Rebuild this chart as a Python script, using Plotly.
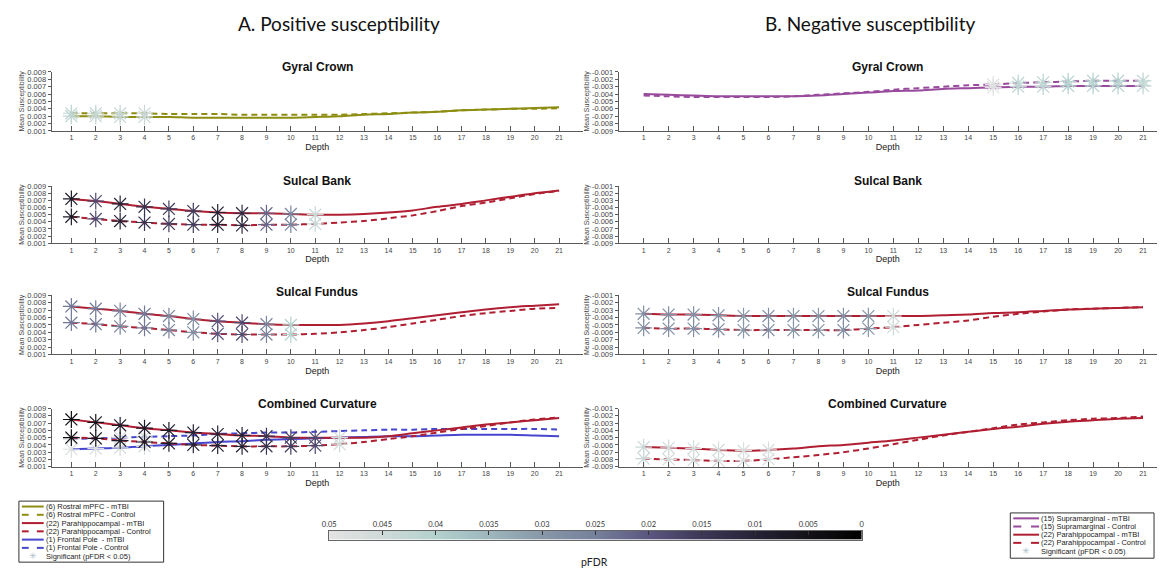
import plotly.graph_objects as go

W, H = 1161, 577
depth = list(range(1, 22))

# ---------------- A. Positive susceptibility ----------------
rmpfc_gc_mtbi = [0.0030, 0.0030, 0.0029, 0.0029, 0.0029, 0.0028, 0.0028, 0.0028, 0.0028, 0.0028, 0.0029,
                 0.0030, 0.0032, 0.0033, 0.0035, 0.0036, 0.0038, 0.0039, 0.0040, 0.0041, 0.0042]
rmpfc_gc_ctrl = [0.0034, 0.0034, 0.0034, 0.0034, 0.0033, 0.0033, 0.0033, 0.0032, 0.0032, 0.0032, 0.0032,
                 0.0032, 0.0033, 0.0034, 0.0035, 0.0036, 0.0038, 0.0039, 0.0040, 0.0040, 0.0041]
rmpfc_gc_sig = [1, 2, 3, 4]
rmpfc_gc_p = [0.042, 0.043, 0.043, 0.044]

para_sb_mtbi = [0.0072, 0.0069, 0.0065, 0.0061, 0.0058, 0.0055, 0.0053, 0.0052, 0.0052, 0.0051, 0.0050,
                0.0050, 0.0051, 0.0053, 0.0056, 0.0061, 0.0065, 0.0070, 0.0075, 0.0080, 0.0084]
para_sb_ctrl = [0.0047, 0.0044, 0.0041, 0.0039, 0.0037, 0.0036, 0.0036, 0.0035, 0.0036, 0.0036, 0.0037,
                0.0039, 0.0041, 0.0045, 0.0049, 0.0055, 0.0062, 0.0067, 0.0073, 0.0079, 0.0083]
para_sb_sig = [1, 2, 3, 4, 5, 6, 7, 8, 9, 10, 11]
para_sb_p = [0.008, 0.018, 0.010, 0.014, 0.016, 0.016, 0.010, 0.012, 0.022, 0.026, 0.044]

para_sf_mtbi = [0.0075, 0.0072, 0.0069, 0.0065, 0.0062, 0.0058, 0.0055, 0.0053, 0.0051, 0.0050, 0.0050,
                0.0050, 0.0052, 0.0055, 0.0059, 0.0063, 0.0067, 0.0071, 0.0074, 0.0076, 0.0078]
para_sf_ctrl = [0.0053, 0.0051, 0.0048, 0.0046, 0.0043, 0.0040, 0.0038, 0.0037, 0.0037, 0.0037, 0.0038,
                0.0040, 0.0043, 0.0047, 0.0052, 0.0057, 0.0062, 0.0066, 0.0069, 0.0072, 0.0073]
para_sf_sig = [1, 2, 3, 4, 5, 6, 7, 8, 9, 10]
para_sf_p = [0.024, 0.024, 0.026, 0.024, 0.026, 0.028, 0.020, 0.018, 0.026, 0.040]

para_cc_mtbi = [0.0075, 0.0071, 0.0067, 0.0063, 0.0060, 0.0057, 0.0055, 0.0053, 0.0052, 0.0050, 0.0050,
                0.0050, 0.0050, 0.0052, 0.0056, 0.0060, 0.0064, 0.0068, 0.0071, 0.0074, 0.0077]
para_cc_ctrl = [0.0050, 0.0049, 0.0046, 0.0044, 0.0042, 0.0040, 0.0039, 0.0038, 0.0038, 0.0038, 0.0039,
                0.0041, 0.0044, 0.0048, 0.0052, 0.0057, 0.0062, 0.0066, 0.0071, 0.0075, 0.0078]
para_cc_sig = [1, 2, 3, 4, 5, 6, 7, 8, 9, 10, 11, 12]
para_cc_p = [0.004, 0.006, 0.008, 0.008, 0.008, 0.010, 0.010, 0.010, 0.014, 0.016, 0.018, 0.045]

fp_cc_mtbi = [0.0034, 0.0035, 0.0036, 0.0038, 0.0040, 0.0042, 0.0044, 0.0045, 0.0047, 0.0048, 0.0049,
              0.0050, 0.0051, 0.0052, 0.0052, 0.0053, 0.0054, 0.0054, 0.0054, 0.0053, 0.0052]
fp_cc_ctrl = [0.0048, 0.0049, 0.0050, 0.0051, 0.0052, 0.0053, 0.0055, 0.0056, 0.0057, 0.0057, 0.0058,
              0.0059, 0.0060, 0.0061, 0.0061, 0.0062, 0.0062, 0.0062, 0.0062, 0.0062, 0.0061]
fp_cc_sig = [1, 2, 3, 4]
fp_cc_p = [0.048, 0.048, 0.047, 0.046]

# ---------------- B. Negative susceptibility ----------------
supra_gc_mtbi = [-0.0040, -0.0041, -0.0042, -0.0043, -0.0043, -0.0043, -0.0043, -0.0042, -0.0040, -0.0038, -0.0036,
                 -0.0035, -0.0033, -0.0032, -0.0031, -0.0030, -0.0030, -0.0029, -0.0029, -0.0029, -0.0029]
supra_gc_ctrl = [-0.0042, -0.0043, -0.0044, -0.0044, -0.0044, -0.0044, -0.0043, -0.0041, -0.0039, -0.0037, -0.0034,
                 -0.0032, -0.0030, -0.0028, -0.0027, -0.0025, -0.0024, -0.0023, -0.0022, -0.0022, -0.0022]
supra_gc_sig = [15, 16, 17, 18, 19, 20, 21]
supra_gc_p = [0.049, 0.042, 0.042, 0.040, 0.040, 0.040, 0.042]

para_nsf_mtbi = [-0.0035, -0.0036, -0.0036, -0.0037, -0.0038, -0.0038, -0.0038, -0.0038, -0.0038, -0.0038, -0.0038,
                 -0.0038, -0.0037, -0.0036, -0.0034, -0.0033, -0.0031, -0.0029, -0.0028, -0.0027, -0.0026]
para_nsf_ctrl = [-0.0054, -0.0055, -0.0055, -0.0056, -0.0057, -0.0057, -0.0057, -0.0057, -0.0057, -0.0055, -0.0053,
                 -0.0050, -0.0047, -0.0044, -0.0039, -0.0035, -0.0032, -0.0029, -0.0028, -0.0027, -0.0026]
para_nsf_sig = [1, 2, 3, 4, 5, 6, 7, 8, 9, 10, 11]
para_nsf_p = [0.028, 0.028, 0.028, 0.028, 0.030, 0.028, 0.030, 0.030, 0.028, 0.030, 0.045]

para_ncc_mtbi = [-0.0063, -0.0064, -0.0065, -0.0067, -0.0068, -0.0067, -0.0065, -0.0062, -0.0060, -0.0057, -0.0054,
                 -0.0050, -0.0046, -0.0042, -0.0038, -0.0035, -0.0031, -0.0028, -0.0026, -0.0024, -0.0023]
para_ncc_ctrl = [-0.0079, -0.0080, -0.0081, -0.0082, -0.0082, -0.0080, -0.0077, -0.0074, -0.0070, -0.0065, -0.0059,
                 -0.0053, -0.0047, -0.0042, -0.0037, -0.0032, -0.0029, -0.0026, -0.0024, -0.0023, -0.0021]
para_ncc_sig = [1, 2, 3, 4, 5, 6]
para_ncc_p = [0.044, 0.046, 0.046, 0.046, 0.047, 0.047]

pos_yticks = [0.001, 0.002, 0.003, 0.004, 0.005, 0.006, 0.007, 0.008, 0.009]
neg_yticks = [-0.009, -0.008, -0.007, -0.006, -0.005, -0.004, -0.003, -0.002, -0.001]
cbar_ticks = [0.05, 0.045, 0.04, 0.035, 0.03, 0.025, 0.02, 0.015, 0.01, 0.005, 0]
cbar_ticktext = ["0.05", "0.045", "0.04", "0.035", "0.03", "0.025", "0.02", "0.015", "0.01", "0.005", "0"]

OLIVE = "#8d8d12"
RED = "#b01e32"
BLUE = "#4646cf"
PURPLE = "#984a9c"
AXC = "#5a5a5a"
FONT = "Liberation Sans"

pfdr_scale = [[0.0, "#000000"], [0.1, "#141218"], [0.2, "#262236"], [0.3, "#3c3856"],
              [0.4, "#5b5680"], [0.5, "#76809b"], [0.6, "#8898a8"], [0.7, "#9db6bd"],
              [0.8, "#b3d1cd"], [0.9, "#cfdad9"], [1.0, "#e3e3e3"]]


def fx(px):
    return px / W


def fy(py):
    return 1 - py / H


rows = [(69, 129), (185, 243), (296, 356), (411, 470)]
left_x = (45, 581)
right_x = (617, 1160)
left_range = [0.19, 21.98]
right_range = [0.0, 21.56]

fig = go.Figure()
layout = dict(
    width=W, height=H, margin=dict(l=0, r=0, t=0, b=0),
    paper_bgcolor="white", plot_bgcolor="white", showlegend=False,
    font=dict(family=FONT, color="#222"),
)
annotations = []
shapes = []

panels = []  # (axis index, side, row)
idx = 0
for side in ("L", "R"):
    for r in range(4):
        idx += 1
        panels.append((idx, side, r))

titles = ["Gyral Crown", "Sulcal Bank", "Sulcal Fundus", "Combined Curvature"]
title_y = [64, 180, 293, 406]

for i, side, r in panels:
    xs = "" if i == 1 else str(i)
    xdom = left_x if side == "L" else right_x
    top, bot = rows[r]
    layout["xaxis" + xs] = dict(
        domain=[fx(xdom[0]), fx(xdom[1])], anchor="y" + xs,
        range=left_range if side == "L" else right_range,
        tickmode="array", tickvals=depth, ticktext=[str(d) for d in depth],
        ticks="inside", ticklen=5, tickcolor=AXC, tickwidth=1,
        showline=True, linecolor=AXC, linewidth=1, showgrid=False, zeroline=False,
        tickfont=dict(size=7, color="#444", family=FONT),
        title=dict(text="Depth", font=dict(size=9, color="#222", family=FONT), standoff=3),
    )
    yt = pos_yticks if side == "L" else neg_yticks
    layout["yaxis" + xs] = dict(
        domain=[fy(bot), fy(top)], anchor="x" + xs,
        range=[0.001, 0.009] if side == "L" else [-0.009, -0.001],
        tickmode="array", tickvals=yt, ticktext=[f"{v:.3f}" for v in yt],
        ticks="outside", ticklen=3, tickcolor=AXC, tickwidth=1,
        showline=True, linecolor=AXC, linewidth=1, showgrid=False, zeroline=False,
        tickfont=dict(size=7.5, color="#444", family=FONT),
        title=dict(text="Mean Susceptibility", font=dict(size=7, color="#444", family=FONT), standoff=1),
    )
    annotations.append(dict(
        text="<b>" + titles[r] + "</b>", xref="x" + xs + " domain", x=0.5,
        yref="paper", y=fy(title_y[r]), xanchor="center", yanchor="middle",
        showarrow=False, font=dict(size=12, color="#111", family=FONT)))


def add_pair(ax, mtbi, ctrl, color, sig, p):
    xs = "" if ax == 1 else str(ax)
    fig.add_trace(go.Scatter(x=depth, y=mtbi, mode="lines", xaxis="x" + xs, yaxis="y" + xs,
                             line=dict(color=color, width=2, shape="spline", smoothing=0.8)))
    fig.add_trace(go.Scatter(x=depth, y=ctrl, mode="lines", xaxis="x" + xs, yaxis="y" + xs,
                             line=dict(color=color, width=2, dash="6px,4px", shape="spline", smoothing=0.8)))
    for vals in (mtbi, ctrl):
        fig.add_trace(go.Scatter(
            x=sig, y=[vals[d - 1] for d in sig], mode="markers", xaxis="x" + xs, yaxis="y" + xs,
            cliponaxis=False,
            marker=dict(symbol="asterisk-open", size=14, color=p, colorscale=pfdr_scale,
                        cmin=0, cmax=0.05, line=dict(width=1.2))))


add_pair(1, rmpfc_gc_mtbi, rmpfc_gc_ctrl, OLIVE, rmpfc_gc_sig, rmpfc_gc_p)
add_pair(2, para_sb_mtbi, para_sb_ctrl, RED, para_sb_sig, para_sb_p)
add_pair(3, para_sf_mtbi, para_sf_ctrl, RED, para_sf_sig, para_sf_p)
add_pair(4, fp_cc_mtbi, fp_cc_ctrl, BLUE, fp_cc_sig, fp_cc_p)
add_pair(4, para_cc_mtbi, para_cc_ctrl, RED, para_cc_sig, para_cc_p)
add_pair(5, supra_gc_mtbi, supra_gc_ctrl, PURPLE, supra_gc_sig, supra_gc_p)
add_pair(7, para_nsf_mtbi, para_nsf_ctrl, RED, para_nsf_sig, para_nsf_p)
add_pair(8, para_ncc_mtbi, para_ncc_ctrl, RED, para_ncc_sig, para_ncc_p)
# empty Sulcal Bank (negative) panel: invisible anchor trace so axes render
fig.add_trace(go.Scatter(x=[], y=[], xaxis="x6", yaxis="y6"))

# ---------------- colour bar (pFDR) ----------------
nsteps = 200
cb_x = [0.05 * k / (nsteps - 1) for k in range(nsteps)]
fig.add_trace(go.Heatmap(x=cb_x, y=[0], z=[cb_x], colorscale=pfdr_scale, zmin=0, zmax=0.05,
                         showscale=False, xaxis="x9", yaxis="y9", hoverinfo="skip"))
layout["xaxis9"] = dict(
    domain=[fx(325), fx(862)], anchor="y9", range=[0.05, 0], side="top",
    tickmode="array", tickvals=cbar_ticks, ticktext=cbar_ticktext,
    ticks="inside", ticklen=4, tickcolor="#333", showline=True, mirror=True,
    linecolor="#666", linewidth=1, showgrid=False, zeroline=False,
    tickfont=dict(size=7.5, color="#333", family="Lato"))
layout["yaxis9"] = dict(
    domain=[fy(544), fy(535)], anchor="x9", range=[-0.5, 0.5], showticklabels=False,
    ticks="", showline=True, mirror=True, linecolor="#666", linewidth=1,
    showgrid=False, zeroline=False)
annotations.append(dict(text="pFDR", xref="paper", yref="paper", x=fx(593), y=fy(567),
                        showarrow=False, xanchor="center", yanchor="middle",
                        font=dict(size=10.5, color="#222", family="Lato")))

# ---------------- main headings ----------------
annotations.append(dict(text="A. Positive susceptibility", xref="paper", yref="paper",
                        x=fx(335), y=fy(20), showarrow=False, xanchor="center", yanchor="middle",
                        font=dict(size=19, color="#111", family="Lato")))
annotations.append(dict(text="B. Negative susceptibility", xref="paper", yref="paper",
                        x=fx(870), y=fy(20), showarrow=False, xanchor="center", yanchor="middle",
                        font=dict(size=19, color="#111", family="Lato")))

# ---------------- legends (drawn) ----------------
left_items = [("(6) Rostral mPFC - mTBI", OLIVE, "solid"),
              ("(6) Rostral mPFC - Control", OLIVE, "dash"),
              ("(22) Parahippocampal - mTBI", RED, "solid"),
              ("(22) Parahippocampal - Control", RED, "dash"),
              ("(1) Frontal Pole  - mTBI", BLUE, "solid"),
              ("(1) Frontal Pole - Control", BLUE, "dash"),
              ("Significant (pFDR < 0.05)", None, None)]
right_items = [("(15) Supramarginal - mTBI", PURPLE, "solid"),
               ("(15) Supramarginal - Control", PURPLE, "dash"),
               ("(22) Parahippocampal - mTBI", RED, "solid"),
               ("(22) Parahippocampal - Control", RED, "dash"),
               ("Significant (pFDR < 0.05)", None, None)]


def draw_legend(items, box, y0, dy, lx0, lx1, tx):
    shapes.append(dict(type="rect", xref="paper", yref="paper",
                       x0=fx(box[0]), x1=fx(box[1]), y0=fy(box[3]), y1=fy(box[2]),
                       line=dict(color="#333", width=1), fillcolor="white", layer="above"))
    for k, (txt, col, dash) in enumerate(items):
        yy = y0 + k * dy
        if col is not None:
            if dash == "solid":
                shapes.append(dict(type="line", xref="paper", yref="paper", x0=fx(lx0), x1=fx(lx1),
                                   y0=fy(yy), y1=fy(yy), line=dict(color=col, width=2)))
            else:
                seg = (lx1 - lx0) / 3.2
                for s0 in (lx0, lx1 - seg):
                    shapes.append(dict(type="line", xref="paper", yref="paper", x0=fx(s0), x1=fx(s0 + seg),
                                       y0=fy(yy), y1=fy(yy), line=dict(color=col, width=2)))
        else:
            annotations.append(dict(text="✳", xref="paper", yref="paper", x=fx((lx0 + lx1) / 2),
                                    y=fy(yy), showarrow=False, xanchor="center", yanchor="middle",
                                    font=dict(size=9, color="#a9bcc8", family="DejaVu Sans")))
        annotations.append(dict(text=txt, xref="paper", yref="paper", x=fx(tx), y=fy(yy),
                                showarrow=False, xanchor="left", yanchor="middle",
                                font=dict(size=7.5, color="#222", family=FONT)))


draw_legend(left_items, (12, 158, 505, 567), 510.5, 8.4, 15, 37, 37)
draw_legend(right_items, (1012, 1157, 517, 563), 522.5, 8.3, 1015, 1041, 1041)

layout["annotations"] = annotations
layout["shapes"] = shapes
fig.update_layout(**layout)
fig.write_html("out.html")
